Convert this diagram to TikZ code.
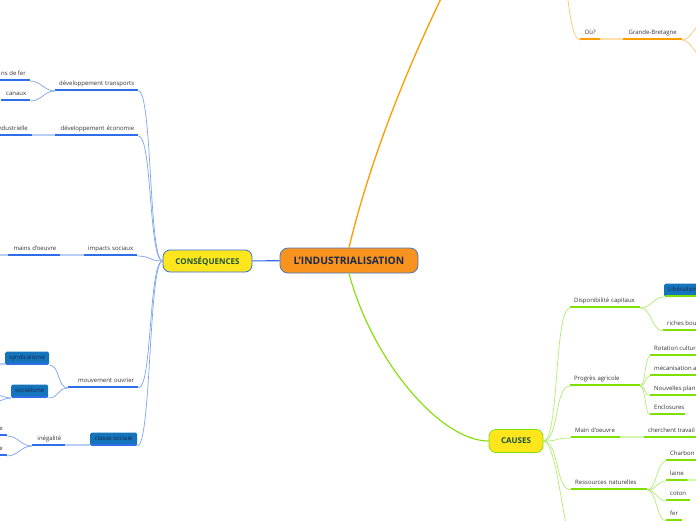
\documentclass[tikz,border=0pt]{standalone}
\usepackage{fontspec}
\setmainfont{Open Sans}
\usetikzlibrary{positioning}

\definecolor{txt}{HTML}{333333}
\definecolor{navy}{HTML}{1B2A4A}
\definecolor{rootfill}{HTML}{F7931E}
\definecolor{rootdraw}{HTML}{4A78C2}
\definecolor{yel}{HTML}{FFE51C}
\definecolor{tagblue}{HTML}{1474BC}
\definecolor{bdark}{HTML}{2F6EEA}
\definecolor{blite}{HTML}{7FA3F2}
\definecolor{bpale}{HTML}{B9CEF7}
\definecolor{gdark}{HTML}{7FE000}
\definecolor{glite}{HTML}{B2EC74}
\definecolor{gpale}{HTML}{D6F6AE}
\definecolor{odark}{HTML}{FF9C00}
\definecolor{olite}{HTML}{FFC56E}
\definecolor{opale}{HTML}{FFDFAD}

\begin{document}
\begin{tikzpicture}[x=1pt, y=-1pt,
    leaf/.style={font=\fontsize{6}{6.5}\selectfont, text=txt, inner xsep=4pt, inner ysep=3.8pt,
        text height=4.3pt, text depth=1.3pt,
        path picture={\fill[#1] (path picture bounding box.south west) rectangle ([yshift=1.6pt]path picture bounding box.south east);}},
    wl/.style={text width=#1, align=left},
    wr/.style={text width=#1, align=right},
    tagbox/.style={leaf=#1, fill=tagblue, text=navy, rounded corners=1.5pt, minimum height=13pt},
    topic/.style={fill=yel, draw=#1, line width=0.8pt, rounded corners=7pt, text=navy!80!green,
        font=\fontsize{8}{9}\selectfont\bfseries, inner sep=0pt},
    link/.style={draw=#1, line width=0.7pt},
    bar/.style={draw=#1, line width=1.6pt}
]
    \useasboundingbox (0,0) rectangle (696,520);
    \fill[white] (0,0) rectangle (696,520);
    \clip (0,0) rectangle (696,520);

    % centre and main topics
    \node [fill=rootfill, draw=rootdraw, line width=0.8pt, rounded corners=8pt, minimum width=138pt, minimum height=25pt,
        text=navy, font=\fontsize{10.3}{11}\selectfont\bfseries, inner sep=0pt] (ind) at (349,260.5) {L'INDUSTRIALISATION};
    \node [topic=bdark, minimum width=89pt, minimum height=22pt] (cons) at (207.5,261) {CONSÉQUENCES};
    \node [topic=gdark, minimum width=54pt, minimum height=23pt] (caus) at (516,441) {CAUSES};
    \coordinate (toppar) at (455,-30);

    \draw [line width=1.1pt, bdark] (ind) -- (cons);
    \draw [line width=1.3pt, odark] (ind.north) .. controls (375,140) and (420,40) .. (toppar);
    \draw [line width=1.1pt, gdark] (ind.south) .. controls (372,360) and (440,441) .. (caus.west);

    % consequences
    \node [leaf=bdark, anchor=south west, wr=75pt] (transp) at (55,91) {développement transports};
    \node [leaf=bdark, anchor=south east] (fer) at (30,81) {ns de fer};
    \node [leaf=bdark, anchor=south west, wr=21pt] (canaux) at (1,101) {canaux};
    \node [leaf=bdark, anchor=south west, wr=75pt] (eco) at (55,136) {développement économie};
    \node [leaf=bdark, anchor=south east] (indust) at (32,136) {ndustrielle};
    \node [leaf=bdark, anchor=south west, wr=45pt] (soc) at (84,256) {impacts sociaux};
    \node [leaf=bdark, anchor=south west, wr=44pt] (mains) at (8,256) {mains d'oeuvre};
    \node [leaf=bdark, anchor=south west, wr=62pt] (ouvr) at (68,388) {mouvement ouvrier};
    \node [tagbox=bdark, anchor=south west, minimum width=43pt] (synd) at (5,365) {syndicalisme};
    \node [tagbox=bdark, anchor=south west, minimum width=37pt] (socia) at (11,398) {socialisme};
    \node [tagbox=bdark, anchor=south west, minimum width=47pt] (classe) at (90,446) {classe sociale};
    \node [leaf=bdark, anchor=south west, wr=25pt] (inega) at (32,446) {inégalité};
    \node [leaf=bdark, anchor=south east] (ineA) at (7,436) {e};
    \node [leaf=bdark, anchor=south east] (ineB) at (7,456) {e};
    \coordinate (mainsoff) at (-10,255.2);
    \coordinate (syndoff) at (-10,364.2);
    \coordinate (sociaA) at (-14,392);
    \coordinate (sociaB) at (-14,405);

    \foreach \n in {transp, eco, soc, ouvr, classe}
        \draw [link=blite] (\n.south east) .. controls +(14,0) and +(-14,0) .. (cons.west);
    \foreach \n in {fer, canaux}
        \draw [link=blite] (transp.south west) .. controls +(-11,0) and +(11,0) .. (\n.south east);
    \foreach \n in {synd, socia}
        \draw [link=blite] (ouvr.south west) .. controls +(-11,0) and +(11,0) .. (\n.south east);
    \foreach \n in {ineA, ineB}
        \draw [link=blite] (inega.south west) .. controls +(-11,0) and +(11,0) .. (\n.south east);
    \foreach \n in {sociaA, sociaB}
        \draw [link=blite] (socia.south west) .. controls +(-8,0) and +(8,0) .. (\n);
    \draw [bar=bpale] ([yshift=.8pt]indust.south east) -- ([yshift=.8pt]eco.south west);
    \draw [bar=bpale] ([yshift=.8pt]mains.south east) -- ([yshift=.8pt]soc.south west);
    \draw [bar=bpale] (mainsoff) -- ([yshift=.8pt]mains.south west);
    \draw [bar=bpale] (syndoff) -- ([yshift=.8pt]synd.south west);
    \draw [bar=bpale] ([yshift=.8pt]inega.south east) -- ([yshift=.8pt]classe.south west);

    % causes
    \node [leaf=gdark, anchor=south west, wl=62pt] (dispo) at (570,308) {Disponibilité capitaux};
    \node [tagbox=gdark, anchor=south west] (lib) at (664,297) {Libéralism};
    \node [leaf=gdark, anchor=south west] (riches) at (663,331) {riches bou};
    \node [leaf=gdark, anchor=south west, wl=62pt] (prog) at (570,386) {Progrès agricole};
    \node [leaf=gdark, anchor=south west] (rot) at (650,356) {Rotation culture};
    \node [leaf=gdark, anchor=south west] (meca) at (650,376) {mécanisation a};
    \node [leaf=gdark, anchor=south west] (nouv) at (650,396) {Nouvelles plan};
    \node [leaf=gdark, anchor=south west, wl=27pt] (encl) at (650,415) {Enclosures};
    \node [leaf=gdark, anchor=south west, wl=41pt] (mainv) at (571,438) {Main d'oeuvre};
    \node [leaf=gdark, anchor=south west] (trav) at (644,438) {cherchent travail};
    \node [leaf=gdark, anchor=south west, wl=68pt] (ress) at (571,490) {Ressources naturelles};
    \node [leaf=gdark, anchor=south west] (charb) at (666,461) {Charbon};
    \node [leaf=gdark, anchor=south west] (laine) at (666,481) {laine};
    \node [leaf=gdark, anchor=south west, wl=16pt] (coton) at (666,501) {coton};
    \node [leaf=gdark, anchor=south west] (ferr) at (666,521) {fer};
    \coordinate (causoff) at (580,560);
    \coordinate (charboff) at (710,460.2);
    \coordinate (laineoff) at (710,480.2);

    \foreach \n in {dispo, prog, mainv, ress}
        \draw [link=glite] (caus.east) .. controls +(16,0) and +(-16,0) .. (\n.south west);
    \draw [link=glite] (caus.east) .. controls +(16,0) and +(-16,0) .. (causoff);
    \foreach \n in {lib, riches}
        \draw [link=glite] (dispo.south east) .. controls +(11,0) and +(-11,0) .. (\n.south west);
    \foreach \n in {rot, meca, nouv, encl}
        \draw [link=glite] (prog.south east) .. controls +(5,0) and +(-5,0) .. (\n.south west);
    \foreach \n in {charb, laine, coton, ferr}
        \draw [link=glite] (ress.south east) .. controls +(9,0) and +(-9,0) .. (\n.south west);
    \draw [bar=gpale] ([yshift=.8pt]mainv.south east) -- ([yshift=.8pt]trav.south west);
    \draw [bar=gpale] ([yshift=.8pt]charb.south east) -- (charboff);
    \draw [bar=gpale] ([yshift=.8pt]laine.south east) -- (laineoff);

    % top branch
    \node [leaf=odark, anchor=south west, minimum width=20pt] (ou) at (580,40) {Où?};
    \node [leaf=odark, anchor=south west, minimum width=59pt] (gb) at (623,40) {Grande-Bretagne};
    \coordinate (oupar) at (555,-60);
    \coordinate (gbA) at (712,12);
    \coordinate (gbB) at (712,68);

    \draw [link=olite] (oupar) .. controls +(12,0) and +(-14,0) .. (ou.south west);
    \draw [bar=opale] ([yshift=.8pt]ou.south east) -- ([yshift=.8pt]gb.south west);
    \foreach \n in {gbA, gbB}
        \draw [link=olite] (gb.south east) .. controls +(10,0) and +(-10,0) .. (\n);
\end{tikzpicture}
\end{document}
